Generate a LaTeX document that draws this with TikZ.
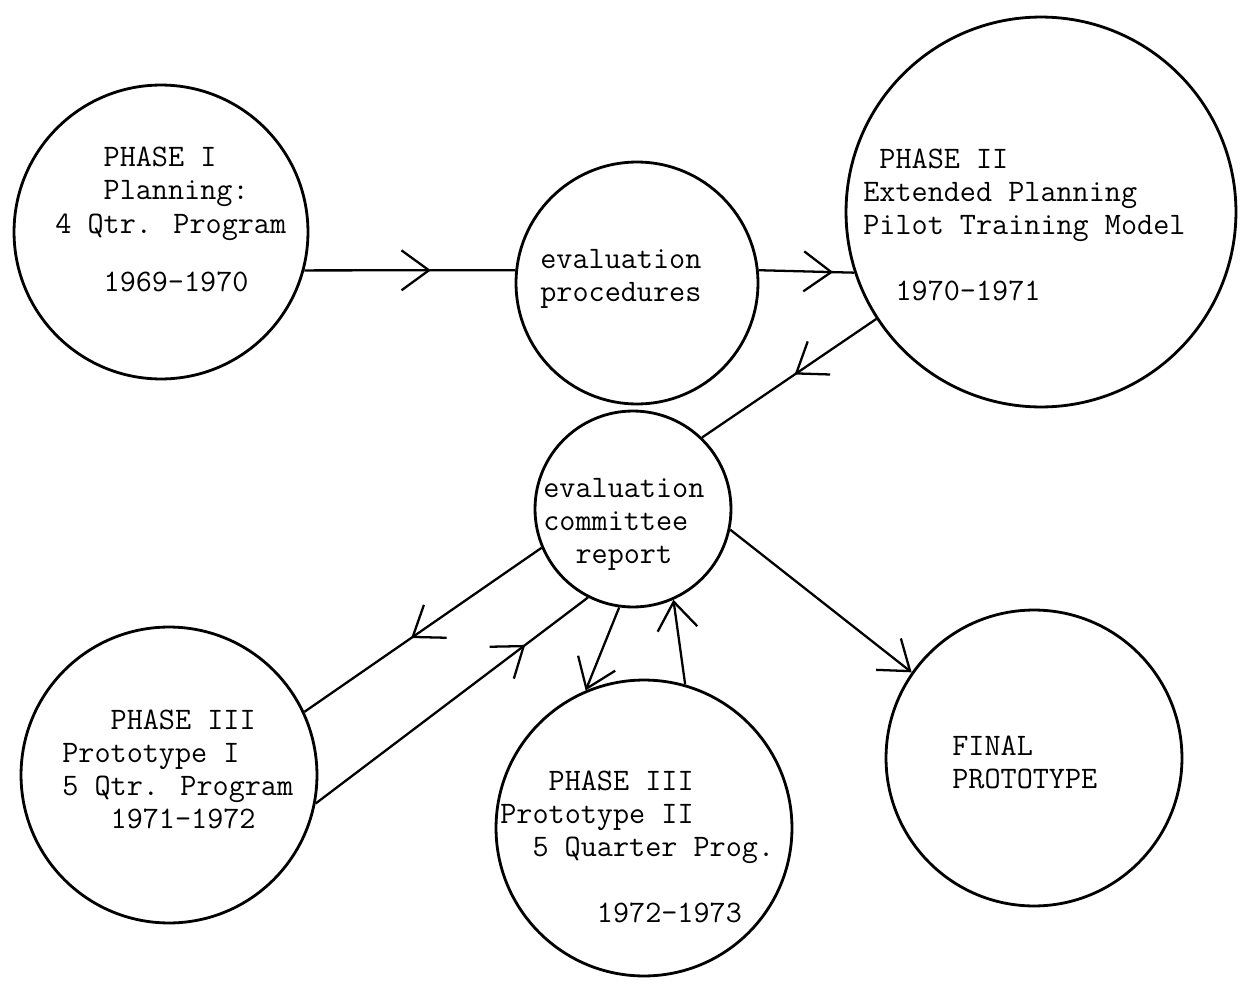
\documentclass[tikz,border=0pt]{standalone}
\usetikzlibrary{arrows.meta,decorations.markings}

\begin{document}
\begin{tikzpicture}[x=0.02cm, y=-0.02cm,
    phase/.style={circle, draw, line width=1.6pt, inner sep=0pt},
    txt/.style={anchor=base west, inner sep=0pt, font=\ttfamily\fontsize{17.8}{18.8}\selectfont},
    link/.style={line width=1.3pt},
    midarrow/.style={postaction={decorate}, decoration={markings, mark=at position #1 with {\arrow{>}}}},
    >={Straight Barb[length=0.55cm, width=0.8cm]}]
    \path[fill=white] (0,0) rectangle (1245,987);

    \node[phase, minimum size=5.88cm] (p1) at (161,232) {};
    \node[phase, minimum size=4.84cm] (evp) at (637,283) {};
    \node[phase, minimum size=7.8cm] (p2) at (1041,212) {};
    \node[phase, minimum size=3.92cm] (ecr) at (633,509) {};
    \node[phase, minimum size=5.92cm] (p3a) at (169,775) {};
    \node[phase, minimum size=5.92cm] (p3b) at (644,828) {};
    \node[phase, minimum size=5.92cm] (fin) at (1034,758) {};

    \node[txt] (p1t) at (55,166) {\begin{tabular}[t]{@{}l@{}}
        \phantom{000}PHASE I\\ \phantom{000}Planning:\\[1pt] 4 Qtr. Program\\[14pt] \phantom{000}1969-1970
        \end{tabular}};
    \node[txt] (evpt) at (540,268) {\begin{tabular}[t]{@{}l@{}}
        evaluation\\ procedures
        \end{tabular}};
    \node[txt] (p2t) at (863,168) {\begin{tabular}[t]{@{}l@{}}
        \phantom{0}PHASE II\\ Extended Planning\\ Pilot Training Model\\ \\ \phantom{00}1970-1971
        \end{tabular}};
    \node[txt] (ecrt) at (543,497) {\begin{tabular}[t]{@{}l@{}}
        evaluation\\ committee\\ \phantom{00}report
        \end{tabular}};
    \node[txt] (p3at) at (62,729) {\begin{tabular}[t]{@{}l@{}}
        \phantom{000}PHASE III\\ Prototype I\\ 5 Qtr. Program\\ \phantom{000}1971-1972
        \end{tabular}};
    \node[txt] (p3bt) at (500,790) {\begin{tabular}[t]{@{}l@{}}
        \phantom{000}PHASE III\\ Prototype II\\ \phantom{00}5 Quarter Prog.\\ \\ \phantom{000000}1972-1973
        \end{tabular}};
    \node[txt] (fint) at (952,755) {\begin{tabular}[t]{@{}l@{}}
        FINAL\\ PROTOTYPE
        \end{tabular}};

    \draw[link, midarrow=0.6] (p1.-15.4) -- (evp.174.3);
    \draw[link, midarrow=0.78] (evp.6.2) -- (p2.-162.7);
    \draw[link, midarrow=0.47] (p2.-147.8) -- (ecr.46.2);
    \draw[link, midarrow=0.55] (ecr.-157.2) -- (p3a.25.9);
    \draw[link, midarrow=0.77] (p3a.-11) -- (ecr.-117.3);
    \draw[link, ->] (ecr.-98.8) -- (p3b.113.1);
    \draw[link, ->] (p3b.74.2) -- (ecr.-66.3);
    \draw[link, ->] (ecr.-12) -- (fin.145.3);
\end{tikzpicture}
\end{document}
